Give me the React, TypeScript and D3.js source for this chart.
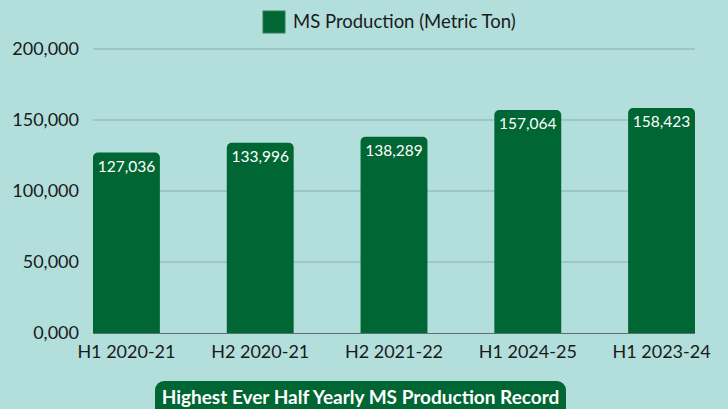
import * as d3 from "d3";
import { useEffect, useRef } from "react";

const periods = ["H1 2020-21", "H2 2020-21", "H2 2021-22", "H1 2024-25", "H1 2023-24"];
const production = [127036, 133996, 138289, 157064, 158423];
const yTicks = [0, 50000, 100000, 150000, 200000];
const legendLabel = "MS Production (Metric Ton)";
const footerLabel = "Highest Ever Half Yearly MS Production Record";

const W = 728;
const H = 409;
const GREEN = "#006633";
const FONT = "Lato, 'Open Sans', sans-serif";

export default function App() {
  const ref = useRef<SVGSVGElement>(null);

  useEffect(() => {
    drawChart();
  }, []);

  function drawChart() {
    const svg = d3.select(ref.current);
    svg.selectAll("*").remove();

    const left = 93;
    const right = 695;
    const top = 49;
    const bottom = 333;

    svg.append("rect").attr("width", W).attr("height", H).attr("fill", "#b2dfdc");

    const x = d3.scaleBand().domain(periods).range([left, right]).paddingInner(0.5).paddingOuter(0);
    const y = d3.scaleLinear().domain([0, 200000]).range([bottom, top]);

    // grid
    svg.append("g")
      .selectAll("line")
      .data(yTicks.filter((d) => d > 0))
      .join("line")
      .attr("x1", left)
      .attr("x2", right)
      .attr("y1", (d) => y(d))
      .attr("y2", (d) => y(d))
      .attr("stroke", "#88aeab")
      .attr("stroke-width", 1);

    // y labels
    svg.append("g")
      .selectAll("text")
      .data(yTicks)
      .join("text")
      .attr("x", 79)
      .attr("y", (d) => y(d))
      .attr("dy", "0.35em")
      .attr("text-anchor", "end")
      .style("font-family", FONT)
      .style("font-size", "18px")
      .style("fill", "#1a1a1a")
      .text((d) => (d === 0 ? "0,000" : d3.format(",")(d)));

    // bars with rounded tops
    const r = 5;
    svg.append("g")
      .selectAll("path")
      .data(production)
      .join("path")
      .attr("d", (d, i) => {
        const x0 = x(periods[i])!;
        const w = x.bandwidth();
        const y0 = y(d);
        const p = d3.path();
        p.moveTo(x0, bottom);
        p.lineTo(x0, y0 + r);
        p.arcTo(x0, y0, x0 + r, y0, r);
        p.lineTo(x0 + w - r, y0);
        p.arcTo(x0 + w, y0, x0 + w, y0 + r, r);
        p.lineTo(x0 + w, bottom);
        p.closePath();
        return p.toString();
      })
      .attr("fill", GREEN);

    // value labels
    svg.append("g")
      .selectAll("text")
      .data(production)
      .join("text")
      .attr("x", (d, i) => x(periods[i])! + x.bandwidth() / 2)
      .attr("y", (d) => y(d) + 19)
      .attr("text-anchor", "middle")
      .style("font-family", FONT)
      .style("font-size", "15.5px")
      .style("fill", "#ffffff")
      .text((d) => d3.format(",")(d));

    // zero axis
    svg.append("line")
      .attr("x1", left)
      .attr("x2", right)
      .attr("y1", bottom + 0.5)
      .attr("y2", bottom + 0.5)
      .attr("stroke", "#5f6f6e")
      .attr("stroke-width", 1);

    // x labels
    svg.append("g")
      .selectAll("text")
      .data(periods)
      .join("text")
      .attr("x", (d) => x(d)! + x.bandwidth() / 2)
      .attr("y", 358)
      .attr("text-anchor", "middle")
      .style("font-family", FONT)
      .style("font-size", "18px")
      .style("fill", "#1a1a1a")
      .text((d) => d);

    // legend
    svg.append("rect")
      .attr("x", 263)
      .attr("y", 11)
      .attr("width", 22)
      .attr("height", 22)
      .attr("fill", GREEN)
      .attr("stroke", "#2f7f55")
      .attr("stroke-width", 1);
    svg.append("text")
      .attr("x", 293)
      .attr("y", 22)
      .attr("dy", "0.35em")
      .style("font-family", FONT)
      .style("font-size", "18.5px")
      .style("fill", "#1a1a1a")
      .text(legendLabel);

    // footer badge
    svg.append("rect")
      .attr("x", 155)
      .attr("y", 381)
      .attr("width", 411)
      .attr("height", 40)
      .attr("rx", 9)
      .attr("fill", GREEN);
    svg.append("text")
      .attr("x", 360.5)
      .attr("y", 397)
      .attr("dy", "0.35em")
      .attr("text-anchor", "middle")
      .style("font-family", FONT)
      .style("font-size", "19px")
      .style("font-weight", "700")
      .style("fill", "#ffffff")
      .text(footerLabel);
  }

  return (
    <div style={{ position: "absolute", left: 0, top: 0 }}>
      <svg ref={ref} width={W} height={H} style={{ display: "block" }} />
    </div>
  );
}
